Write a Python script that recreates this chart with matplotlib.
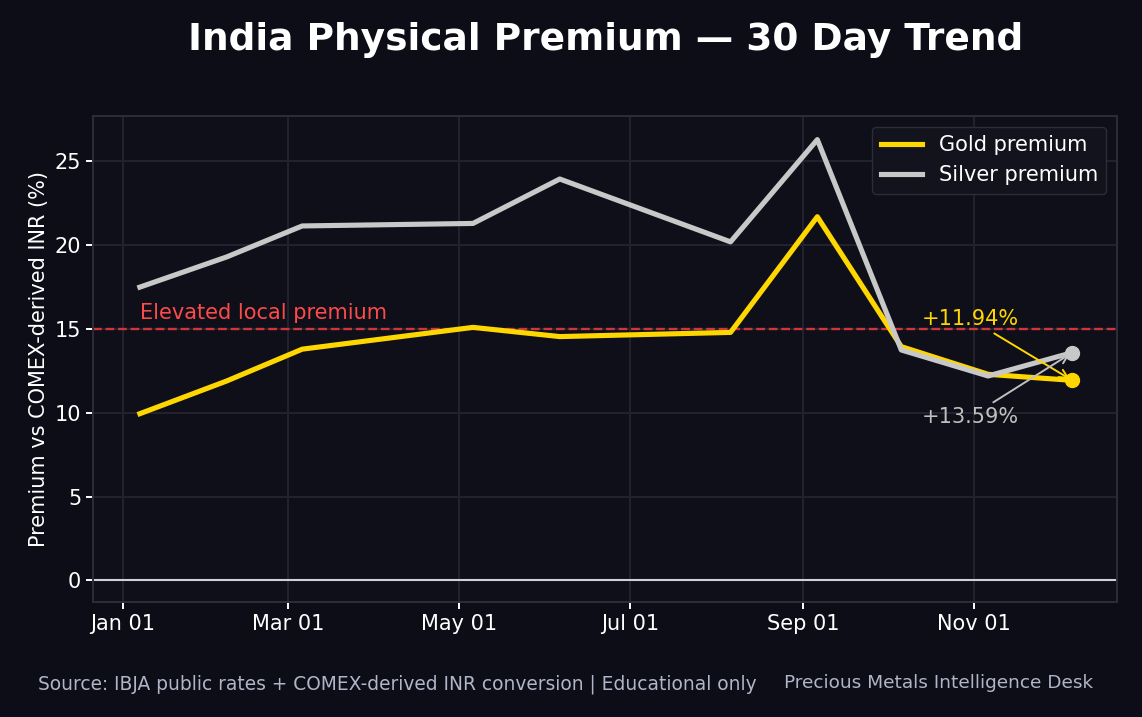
import pandas as pd
import matplotlib
matplotlib.use('Agg')
import matplotlib.pyplot as plt
import matplotlib.dates as mdates

# monthly premium readings (%)
dates = pd.to_datetime(['2025-01-07', '2025-02-07', '2025-03-06', '2025-05-06', '2025-06-06',
                        '2025-08-06', '2025-09-06', '2025-10-06', '2025-11-06', '2025-12-06'])
gold = [9.95, 11.9, 13.8, 15.1, 14.55, 14.8, 21.7, 13.95, 12.3, 11.94]
silver = [17.5, 19.3, 21.15, 21.3, 23.95, 20.2, 26.3, 13.75, 12.2, 13.59]
threshold = 15

bg = '#0c0d17'
ax_bg = '#0e0f19'

fig = plt.figure(figsize=(11.42, 7.17), dpi=100, facecolor=bg)
ax = fig.add_axes([0.0815, 0.160, 0.8965, 0.678])
ax.set_facecolor(ax_bg)

ax.grid(True, color='#22232f', lw=1.4)
ax.set_axisbelow(True)
for s in ax.spines.values():
    s.set_color('#2c2c3a')
    s.set_linewidth(1.4)

ax.axhline(0, color='#d0d0d8', lw=1.5)
ax.axhline(threshold, color='#e0393e', lw=1.7, ls='--', alpha=0.9)
ax.text(dates[0], threshold + 0.35, 'Elevated local premium', color='#ff4a4a',
        fontsize=15, va='bottom')

ax.plot(dates, gold, color='#ffd700', lw=3.7, label='Gold premium')
ax.plot(dates, silver, color='#c8c8c8', lw=3.7, label='Silver premium')
ax.scatter([dates[-1]], [gold[-1]], color='#ffd700', s=100, zorder=5)
ax.scatter([dates[-1]], [silver[-1]], color='#c8c8c8', s=100, zorder=5)

ax.annotate(f'+{gold[-1]:.2f}%', xy=(dates[-1], gold[-1]), xytext=(-73, 44),
            textcoords='offset points', ha='center', va='center', color='#ffd700', fontsize=15,
            arrowprops=dict(arrowstyle='->', color='#ffd700', lw=1.4))
ax.annotate(f'+{silver[-1]:.2f}%', xy=(dates[-1], silver[-1]), xytext=(-73, -46),
            textcoords='offset points', ha='center', va='center', color='#c0c0c0', fontsize=15,
            arrowprops=dict(arrowstyle='->', color='#c0c0c0', lw=1.4))

ax.set_xlim(pd.Timestamp('2024-12-21 07:00'), pd.Timestamp('2025-12-22'))
ax.set_ylim(-1.3, 27.7)
ax.set_yticks([0, 5, 10, 15, 20, 25])
ax.xaxis.set_major_locator(mdates.MonthLocator(bymonth=[1, 3, 5, 7, 9, 11]))
ax.xaxis.set_major_formatter(mdates.DateFormatter('%b %d'))
ax.tick_params(colors='white', labelsize=15, length=5, width=1.4)
ax.set_ylabel('Premium vs COMEX-derived INR (%)', color='white', fontsize=15, labelpad=4)

leg = ax.legend(loc='upper right', fontsize=15, facecolor='#12131d', edgecolor='#2c2c3a',
                labelcolor='white', framealpha=1)

fig.text(0.530, 0.944, 'India Physical Premium — 30 Day Trend', color='white',
         fontsize=27, fontweight='bold', ha='center', va='center')
fig.text(0.033, 0.046, 'Source: IBJA public rates + COMEX-derived INR conversion | Educational only',
         color='#b0b6c8', fontsize=13.4, va='center')
fig.text(0.957, 0.048, 'Precious Metals Intelligence Desk', color='#b0b6c8', fontsize=13.3,
         ha='right', va='center')

fig.savefig('out.png', facecolor=bg)
